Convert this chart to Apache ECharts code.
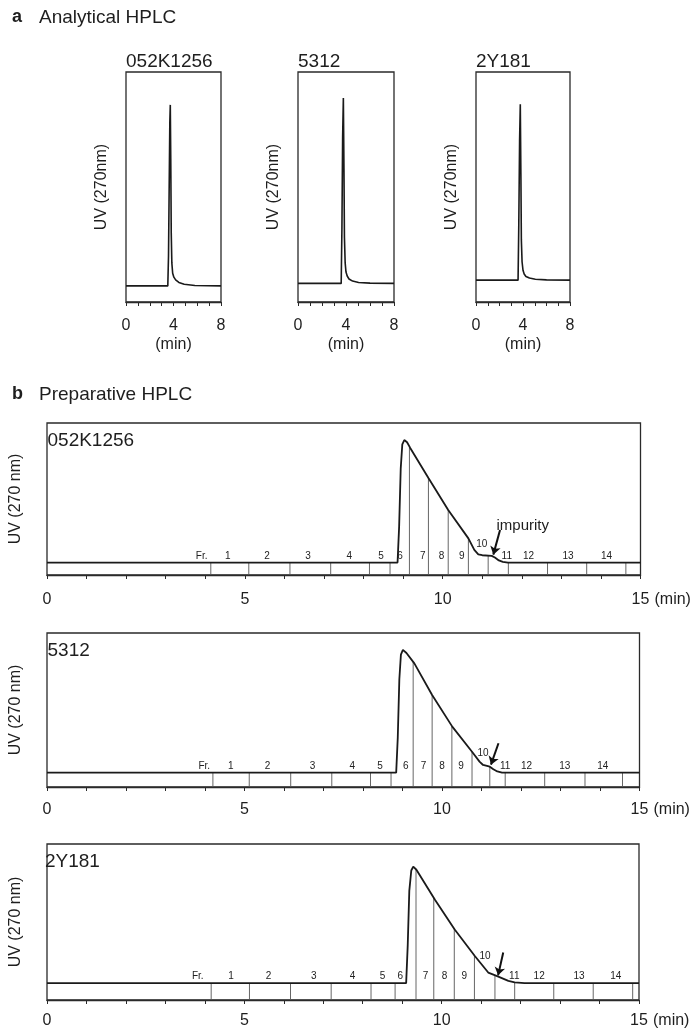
<!DOCTYPE html>
<html><head><meta charset="utf-8">
<script src="https://cdn.jsdelivr.net/npm/echarts@6/dist/echarts.min.js"></script>
<style>html,body{margin:0;padding:0;background:#fff}#c{width:696px;height:1029px}</style>
</head><body><div id="c"></div>
<script>
// ---------- DATA ----------
const anaNames = ['052K1256', '5312', '2Y181'];
const anaTicks = [0, 4, 8];
const ana1Time = [0, 3.52, 3.58, 3.64, 3.69, 3.73, 3.77, 3.81, 3.86, 3.93, 4.03, 4.18, 4.45, 4.9, 5.8, 8];
const ana1UV   = [7.0, 7.0, 20, 52, 78, 85.7, 62, 30, 17, 12.5, 10.8, 9.6, 8.5, 7.7, 7.2, 7.0];
const ana2Time = [0, 3.6, 3.66, 3.72, 3.78, 3.83, 3.87, 3.93, 4.0, 4.1, 4.25, 4.55, 5.05, 6.0, 8];
const ana2UV   = [8.1, 8.1, 32, 72, 88.7, 58, 28, 17, 13, 11.3, 10.0, 9.1, 8.5, 8.2, 8.1];
const ana3Time = [0, 3.58, 3.64, 3.71, 3.77, 3.82, 3.86, 3.92, 4.0, 4.1, 4.25, 4.55, 5.05, 6.0, 8];
const ana3UV   = [9.5, 9.5, 33, 70, 86, 56, 27, 17.5, 13.8, 12.2, 11.1, 10.4, 9.9, 9.6, 9.5];

const prepNames = ['052K1256', '5312', '2Y181'];
const prepTicks = [0, 5, 10, 15];
const fracNames = ['Fr.', '1', '2', '3', '4', '5', '6', '7', '8', '9', '10', '11', '12', '13', '14'];

const prep1Time = [0, 8.86, 8.9, 8.94, 8.98, 9.03, 9.1, 9.18, 9.64, 10.14, 10.65, 10.8, 10.9, 11.0, 11.24, 11.32, 11.42, 11.52, 11.65, 15];
const prep1UV   = [8.2, 8.2, 32, 70, 86, 88.8, 87.3, 83.6, 63.8, 42.8, 24.1, 16.5, 13.6, 13.0, 12.6, 11.5, 9.6, 8.7, 8.2, 8.2];
const prep1Cuts = [4.14, 5.1, 6.14, 7.17, 8.15, 8.67, 9.16, 9.64, 10.14, 10.65, 11.15, 11.66, 12.65, 13.64, 14.63];
const prep1LabelX = [3.91, 4.57, 5.56, 6.6, 7.64, 8.44, 8.92, 9.5, 9.97, 10.48, 10.99, 11.62, 12.17, 13.17, 14.14];
const prep1LabelY = [12.5, 12.5, 12.5, 12.5, 12.5, 12.5, 12.5, 12.5, 12.5, 12.5, 20.5, 12.5, 12.5, 12.5, 12.5];
const prep1Arrow = [[11.45, 29.6], [11.28, 13.4]];
const prep1Note = [11.36, 32.5, 'impurity'];

const prep2Time = [0, 8.84, 8.88, 8.92, 8.96, 9.01, 9.1, 9.3, 9.75, 10.26, 10.76, 10.95, 11.04, 11.21, 11.3, 11.4, 11.52, 15];
const prep2UV   = [9.3, 9.3, 32, 70, 86, 89, 87, 80.3, 59.7, 39.2, 22.9, 16.5, 14.3, 13.2, 11.5, 10.1, 9.3, 9.3];
const prep2Cuts = [4.2, 5.12, 6.17, 7.21, 8.19, 8.71, 9.27, 9.75, 10.25, 10.76, 11.21, 11.6, 12.6, 13.62, 14.57];
const prep2LabelX = [3.98, 4.65, 5.58, 6.72, 7.73, 8.43, 9.08, 9.53, 10.0, 10.48, 11.04, 11.6, 12.14, 13.11, 14.07];
const prep2LabelY = [13.2, 13.2, 13.2, 13.2, 13.2, 13.2, 13.2, 13.2, 13.2, 13.2, 22, 13.2, 13.2, 13.2, 13.2];
const prep2Arrow = [[11.43, 28.4], [11.24, 14.5]];

const prep3Time = [0, 9.1, 9.14, 9.18, 9.23, 9.28, 9.36, 9.83, 10.33, 10.84, 11.18, 11.39, 11.69, 11.85, 12.1, 15];
const prep3UV   = [10.8, 10.8, 35, 70, 83, 85.5, 83.5, 64.3, 45.2, 28.2, 17.6, 15.5, 12.3, 11.3, 10.8, 10.8];
const prep3Cuts = [4.16, 5.13, 6.17, 7.2, 8.21, 8.82, 9.35, 9.8, 10.32, 10.83, 11.35, 11.85, 12.84, 13.84, 14.84];
const prep3LabelX = [3.82, 4.66, 5.61, 6.76, 7.74, 8.5, 8.95, 9.59, 10.07, 10.57, 11.1, 11.84, 12.47, 13.48, 14.41];
const prep3LabelY = [15, 15, 15, 15, 15, 15, 15, 15, 15, 15, 28, 15, 15, 15, 15];
const prep3Arrow = [[11.56, 30.4], [11.43, 15.8]];

// ---------- LAYOUT ----------
const FONT = "'Liberation Sans', Arial, sans-serif";
const INK = '#1e1e1e';
const LINE = '#2a2a2a';
const anaGrids = [
  {left: 126, top: 72, width: 95, height: 230},
  {left: 298, top: 72, width: 96, height: 230},
  {left: 476, top: 72, width: 94, height: 230}
];
const prepGrids = [
  {left: 46.5, top: 423, width: 594, height: 152, margin: 17},
  {left: 46.5, top: 633, width: 593, height: 154, margin: 15},
  {left: 44, top: 844, width: 595, height: 157, margin: 13}
];

const anaSets = [[ana1Time, ana1UV], [ana2Time, ana2UV], [ana3Time, ana3UV]];
const prepSets = [
  {t: prep1Time, v: prep1UV, cuts: prep1Cuts, lx: prep1LabelX, ly: prep1LabelY, arrow: prep1Arrow, note: prep1Note},
  {t: prep2Time, v: prep2UV, cuts: prep2Cuts, lx: prep2LabelX, ly: prep2LabelY, arrow: prep2Arrow},
  {t: prep3Time, v: prep3UV, cuts: prep3Cuts, lx: prep3LabelX, ly: prep3LabelY, arrow: prep3Arrow}
];

function interp(xs, ys, x) {
  for (let i = 1; i < xs.length; i++) {
    if (x <= xs[i]) {
      const f = (x - xs[i - 1]) / (xs[i] - xs[i - 1]);
      return ys[i - 1] + f * (ys[i] - ys[i - 1]);
    }
  }
  return ys[ys.length - 1];
}
const zip = (a, b) => a.map((x, i) => [x, b[i]]);
const txt = (size, weight) => ({fontSize: size, fontFamily: FONT, color: INK, fontWeight: weight || 'normal'});

const grid = [], xAxis = [], yAxis = [], series = [], title = [];

title.push({text: 'a', left: 12, top: 8, padding: 0, textStyle: txt(18, 'bold')});
title.push({text: 'Analytical HPLC', left: 39, top: 8, padding: 0, textStyle: txt(19)});
title.push({text: 'b', left: 12, top: 385, padding: 0, textStyle: txt(18, 'bold')});
title.push({text: 'Preparative HPLC', left: 39, top: 385, padding: 0, textStyle: txt(19)});

anaGrids.forEach((g, i) => {
  grid.push({left: g.left, top: g.top, width: g.width, height: g.height, show: true, borderColor: LINE, borderWidth: 1.3});
  xAxis.push({
    type: 'value', gridIndex: i, min: 0, max: 8, interval: 1,
    axisLine: {lineStyle: {color: LINE, width: 1.3}},
    axisTick: {length: 4, lineStyle: {color: LINE}},
    axisLabel: {formatter: v => anaTicks.includes(v) ? String(v) : '', margin: 16, ...txt(16)},
    splitLine: {show: false},
    name: '(min)', nameLocation: 'middle', nameGap: 35, nameTextStyle: txt(16)
  });
  yAxis.push({
    type: 'value', gridIndex: i, min: 0, max: 100,
    axisLine: {show: false}, axisTick: {show: false}, axisLabel: {show: false}, splitLine: {show: false},
    name: 'UV (270nm)', nameLocation: 'middle', nameGap: 16, nameRotate: 90, nameTextStyle: txt(16)
  });
  title.push({text: anaNames[i], left: g.left, top: 52, padding: 0, textStyle: txt(19)});
  series.push({
    type: 'line', xAxisIndex: i, yAxisIndex: i, data: zip(anaSets[i][0], anaSets[i][1]),
    showSymbol: false, symbol: 'none', lineStyle: {color: '#1a1a1a', width: 1.6}, z: 5
  });
});

prepGrids.forEach((g, j) => {
  const i = j + 3;
  const s = prepSets[j];
  grid.push({left: g.left, top: g.top, width: g.width, height: g.height, show: true, borderColor: LINE, borderWidth: 1.3});
  xAxis.push({
    type: 'value', gridIndex: i, min: 0, max: 15, interval: 1,
    axisLine: {lineStyle: {color: LINE, width: 1.3}},
    axisTick: {length: 4, lineStyle: {color: LINE}},
    axisLabel: {formatter: v => prepTicks.includes(v) ? String(v) : '', margin: g.margin, ...txt(16)},
    splitLine: {show: false},
    name: '(min)', nameLocation: 'end', nameGap: 14,
    nameTextStyle: {...txt(16), verticalAlign: 'top', padding: [g.margin, 0, 0, 0]}
  });
  yAxis.push({
    type: 'value', gridIndex: i, min: 0, max: 100,
    axisLine: {show: false}, axisTick: {show: false}, axisLabel: {show: false}, splitLine: {show: false},
    name: 'UV (270 nm)', nameLocation: 'middle', nameGap: 23, nameRotate: 90, nameTextStyle: txt(16)
  });
  title.push({text: prepNames[j], left: g.left + 1, top: g.top + 8, padding: 0, textStyle: txt(19)});
  // chromatogram trace
  series.push({
    type: 'line', xAxisIndex: i, yAxisIndex: i, data: zip(s.t, s.v),
    showSymbol: false, symbol: 'none', lineStyle: {color: '#1a1a1a', width: 1.8}, z: 5
  });
  // fraction cut lines, from the axis up to the trace
  series.push({
    type: 'custom', xAxisIndex: i, yAxisIndex: i,
    data: s.cuts.map(c => [c, interp(s.t, s.v, c)]),
    renderItem: (params, api) => {
      const p0 = api.coord([api.value(0), 0]);
      const p1 = api.coord([api.value(0), api.value(1)]);
      return {type: 'line', shape: {x1: p0[0], y1: p0[1], x2: p1[0], y2: p1[1]},
        style: {stroke: '#555', lineWidth: 0.9}};
    },
    z: 3
  });
  // fraction labels
  series.push({
    type: 'custom', xAxisIndex: i, yAxisIndex: i,
    data: s.lx.map((x, k) => [x, s.ly[k], fracNames[k]]),
    renderItem: (params, api) => {
      const p = api.coord([api.value(0), api.value(1)]);
      return {type: 'text', x: p[0], y: p[1],
        style: {text: fracNames[params.dataIndex], fontSize: 10, fontFamily: FONT, fill: '#222',
          align: 'center', verticalAlign: 'middle'}};
    },
    z: 6
  });
  // impurity arrow
  series.push({
    type: 'lines', coordinateSystem: 'cartesian2d', xAxisIndex: i, yAxisIndex: i,
    data: [{coords: s.arrow}],
    symbol: ['none', 'arrow'], symbolSize: 8,
    lineStyle: {color: '#111', width: 2, opacity: 1}, z: 7
  });
  if (s.note) {
    series.push({
      type: 'custom', xAxisIndex: i, yAxisIndex: i,
      data: [s.note],
      renderItem: (params, api) => {
        const p = api.coord([api.value(0), api.value(1)]);
        return {type: 'text', x: p[0], y: p[1],
          style: {text: s.note[2], fontSize: 15, fontFamily: FONT, fill: INK, align: 'left', verticalAlign: 'middle'}};
      },
      z: 7
    });
  }
});

const chart = echarts.init(document.getElementById('c'), null, {renderer: 'canvas'});
chart.setOption({backgroundColor: '#ffffff', animation: false, title, grid, xAxis, yAxis, series});
</script></body></html>
